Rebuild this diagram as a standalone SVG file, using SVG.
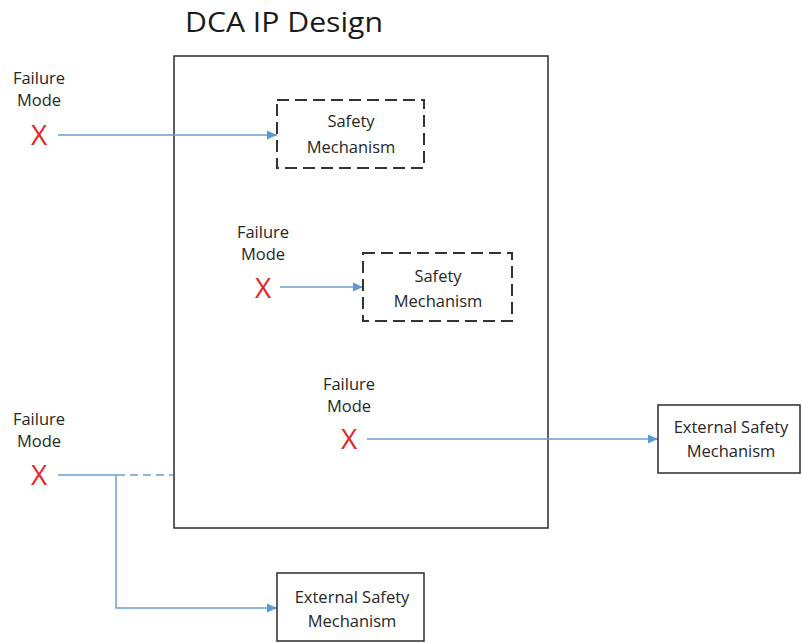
<svg xmlns="http://www.w3.org/2000/svg" width="802" height="643" viewBox="0 0 802 643">
  <defs>
    <marker id="arrow" viewBox="0 0 10 10" refX="10" refY="5" markerWidth="10" markerHeight="10" markerUnits="userSpaceOnUse" orient="auto">
      <path d="M0,0.5 L10,5 L0,9.5 Z" fill="#5b9bd5"/>
    </marker>
    <style>
      .lbl { font-family: "Open Sans", "Noto Sans", sans-serif; font-size: 16.5px; fill: #262626; text-anchor: middle; }
      .x { font-family: "Open Sans", "Noto Sans", sans-serif; font-size: 28px; fill: #e3262b; text-anchor: middle; }
      .title { font-family: "Open Sans", "Noto Sans", sans-serif; font-size: 27px; fill: #1a1a1a; }
      .solidbox { fill: #ffffff; stroke: #2b2b2b; stroke-width: 1.5; }
      .dashbox { fill: #ffffff; stroke: #333333; stroke-width: 2; stroke-dasharray: 12 6; }
      .conn { fill: none; stroke: #6a9fd3; stroke-width: 1.5; }
    </style>
  </defs>
  <rect width="802" height="643" fill="#ffffff"/>

  <!-- design block -->
  <g id="dca-ip-design">
    <text class="title" x="185" y="32" textLength="198" lengthAdjust="spacingAndGlyphs">DCA IP Design</text>
    <rect class="solidbox" x="174" y="56" width="374" height="472" fill="none"/>
  </g>

  <!-- connectors -->
  <g id="connectors">
    <line class="conn" x1="58" y1="135" x2="277" y2="135" marker-end="url(#arrow)"/>
    <line class="conn" x1="280" y1="287" x2="363" y2="287" marker-end="url(#arrow)"/>
    <line class="conn" x1="367" y1="439" x2="658" y2="439" marker-end="url(#arrow)"/>
    <line class="conn" x1="58" y1="475" x2="117" y2="475"/>
    <line class="conn" x1="117" y1="475" x2="173" y2="475" stroke-dasharray="8 5"/>
    <polyline class="conn" points="116,475 116,608 277,608" marker-end="url(#arrow)"/>
  </g>

  <g id="failure-mode-1">
    <text class="lbl" x="39" y="84">Failure</text>
    <text class="lbl" x="39" y="106">Mode</text>
    <text class="x" x="39" y="145">X</text>
  </g>

  <g id="failure-mode-2">
    <text class="lbl" x="263" y="238">Failure</text>
    <text class="lbl" x="263" y="260">Mode</text>
    <text class="x" x="263" y="298">X</text>
  </g>

  <g id="failure-mode-3">
    <text class="lbl" x="349" y="390">Failure</text>
    <text class="lbl" x="349" y="412">Mode</text>
    <text class="x" x="349" y="449">X</text>
  </g>

  <g id="failure-mode-4">
    <text class="lbl" x="39" y="425">Failure</text>
    <text class="lbl" x="39" y="447">Mode</text>
    <text class="x" x="39" y="485">X</text>
  </g>

  <g id="safety-mechanism-1">
    <rect class="dashbox" x="277" y="100" width="147" height="68" fill="#ffffff"/>
    <text class="lbl" x="351" y="127">Safety</text>
    <text class="lbl" x="351" y="153">Mechanism</text>
  </g>

  <g id="safety-mechanism-2">
    <rect class="dashbox" x="363" y="253" width="149" height="68"/>
    <text class="lbl" x="438" y="282">Safety</text>
    <text class="lbl" x="438" y="307">Mechanism</text>
  </g>

  <g id="external-safety-mechanism-1">
    <rect class="solidbox" x="658" y="405" width="142" height="68"/>
    <text class="lbl" x="731" y="433">External Safety</text>
    <text class="lbl" x="731" y="457">Mechanism</text>
  </g>

  <g id="external-safety-mechanism-2">
    <rect class="solidbox" x="277" y="573" width="147" height="68"/>
    <text class="lbl" x="352" y="603">External Safety</text>
    <text class="lbl" x="352" y="627">Mechanism</text>
  </g>
</svg>
